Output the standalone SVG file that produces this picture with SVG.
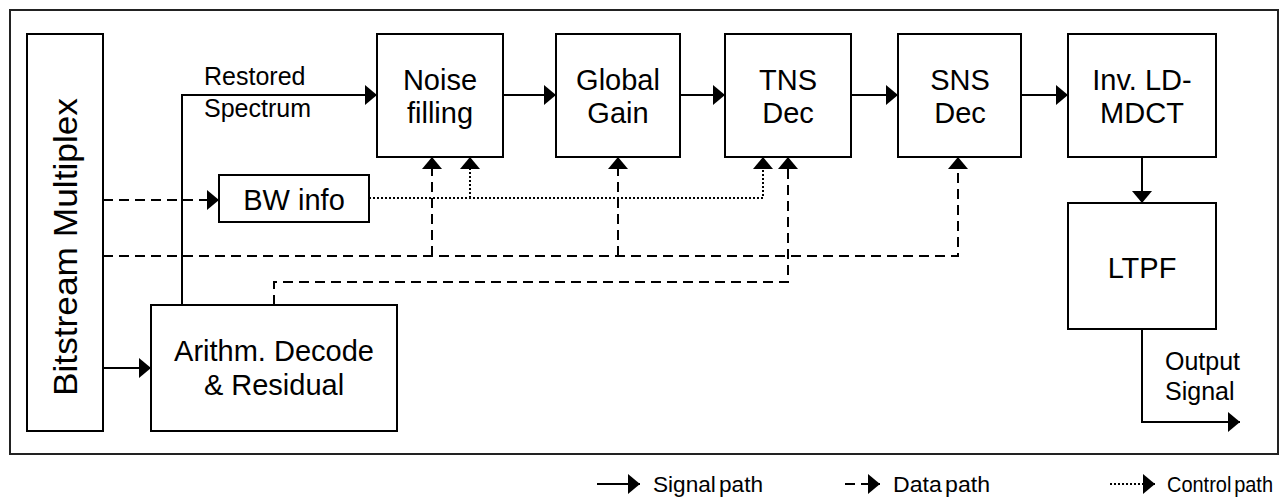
<svg xmlns="http://www.w3.org/2000/svg" width="1283" height="499" viewBox="0 0 1283 499">
<style>
.box{fill:#fff;stroke:#000;stroke-width:2}
.t{font-family:"Liberation Sans",Arial,sans-serif;fill:#000;text-anchor:middle}
.n{font-size:29px}
.s{font-size:25px}
.lg{font-size:22px;text-anchor:start;word-spacing:-3px}
.sig{fill:none;stroke:#000;stroke-width:2}
.dat{fill:none;stroke:#000;stroke-width:2;stroke-dasharray:10 6}
.ctl{fill:none;stroke:#000;stroke-width:2;stroke-dasharray:2 2}
</style>
<defs>
<marker id="ah" markerUnits="userSpaceOnUse" markerWidth="12" markerHeight="20" refX="12" refY="10" orient="auto"><path d="M0,0 L12,10 L0,20 Z" fill="#000"/></marker>
</defs>
<rect x="0" y="0" width="1283" height="499" fill="#fff"/>
<rect id="frame" x="10" y="10" width="1268" height="444" fill="none" stroke="#222" stroke-width="2"/>

<g id="connectors">
<path class="sig" d="M182,305 V95 H377" marker-end="url(#ah)"/>
<path class="sig" d="M503,95 H556" marker-end="url(#ah)"/>
<path class="sig" d="M680,95 H725" marker-end="url(#ah)"/>
<path class="sig" d="M851,95 H898" marker-end="url(#ah)"/>
<path class="sig" d="M1021,95 H1068" marker-end="url(#ah)"/>
<path class="sig" d="M1142,157 V203" marker-end="url(#ah)"/>
<path class="sig" d="M1142,329 V422 H1240" marker-end="url(#ah)"/>
<path class="sig" d="M103,368 H151" marker-end="url(#ah)"/>
<path class="dat" d="M103,200 H219" marker-end="url(#ah)"/>
<path class="dat" d="M103,256 H958 V157" marker-end="url(#ah)"/>
<path class="dat" d="M432,256 V157" marker-end="url(#ah)"/>
<path class="dat" d="M618,256 V157" marker-end="url(#ah)"/>
<path class="dat" d="M274,305 V282 H788 V157" marker-end="url(#ah)"/>
<path class="ctl" d="M369,198 H763 V157" marker-end="url(#ah)"/>
<path class="ctl" d="M470,198 V157" marker-end="url(#ah)"/>
<text class="t s" x="204" y="85" style="text-anchor:start">Restored</text>
<text class="t s" x="204" y="117" style="text-anchor:start">Spectrum</text>
<text class="t s" x="1165" y="370" style="text-anchor:start">Output</text>
<text class="t s" x="1165" y="400" style="text-anchor:start">Signal</text>
</g>

<g id="bitstream"><rect class="box" x="27" y="34" width="76" height="397"/>
<text class="t" x="0" y="0" font-size="33" textLength="298" lengthAdjust="spacingAndGlyphs" transform="translate(77,247) rotate(-90)">Bitstream Multiplex</text></g>
<g id="noise"><rect class="box" x="377" y="34" width="126" height="123"/>
<text class="t n" x="440" y="90">Noise</text><text class="t n" x="440" y="123">filling</text></g>
<g id="gain"><rect class="box" x="556" y="34" width="124" height="123"/>
<text class="t n" x="618" y="90">Global</text><text class="t n" x="618" y="123">Gain</text></g>
<g id="tns"><rect class="box" x="725" y="34" width="126" height="123"/>
<text class="t n" x="788" y="90">TNS</text><text class="t n" x="788" y="123">Dec</text></g>
<g id="sns"><rect class="box" x="898" y="34" width="123" height="123"/>
<text class="t n" x="960" y="90">SNS</text><text class="t n" x="960" y="123">Dec</text></g>
<g id="imdct"><rect class="box" x="1068" y="34" width="148" height="123"/>
<text class="t n" x="1142" y="90">Inv. LD-</text><text class="t n" x="1142" y="123">MDCT</text></g>
<g id="ltpf"><rect class="box" x="1068" y="203" width="148" height="126"/>
<text class="t n" x="1142" y="278">LTPF</text></g>
<g id="bw"><rect class="box" x="219" y="175" width="150" height="47"/>
<text class="t n" x="294" y="210">BW info</text></g>
<g id="arith"><rect class="box" x="151" y="305" width="246" height="126"/>
<text class="t n" x="274" y="361">Arithm. Decode</text><text class="t n" x="274" y="395">&amp; Residual</text></g>

<g id="legend">
<path class="sig" d="M597,484 H640" marker-end="url(#ah)"/>
<text class="t lg" x="653" y="492" textLength="110" lengthAdjust="spacingAndGlyphs">Signal path</text>
<path class="dat" d="M845,484 H880" stroke-dasharray="7 5" marker-end="url(#ah)"/>
<text class="t lg" x="893" y="492" textLength="97" lengthAdjust="spacingAndGlyphs">Data path</text>
<path class="ctl" d="M1110,484 H1155" stroke-width="1.5" marker-end="url(#ah)"/>
<text class="t lg" x="1167" y="492" textLength="106" lengthAdjust="spacingAndGlyphs">Control path</text>
</g>
</svg>
